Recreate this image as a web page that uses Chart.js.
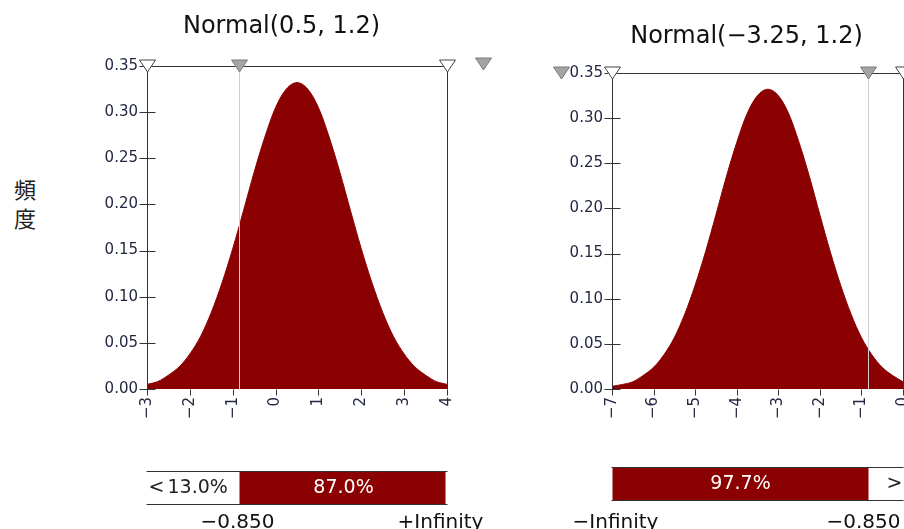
<!DOCTYPE html>
<html>
<head>
<meta charset="utf-8">
<script src="https://cdn.jsdelivr.net/npm/chart.js@4.4.1/dist/chart.umd.min.js"></script>
<style>
  html, body { margin:0; padding:0; background:#fff; width:904px; height:529px; overflow:hidden; position:relative; }
  canvas { position:absolute; top:0; }
  #c1 { left:0; }
  #c2 { left:520px; }
  #ylab { position:absolute; left:12px; top:174px; width:26px; font:22px "Noto Sans CJK JP"; line-height:29px; color:#222; text-align:center; }
</style>
</head>
<body>
<div id="ylab">頻<br>度</div>
<canvas id="c1" width="560" height="529"></canvas>
<canvas id="c2" width="420" height="529"></canvas>
<script>
// density values
const xLeft = [-3, -2.75, -2.5, -2.25, -2, -1.75, -1.5, -1.25, -1, -0.75, -0.5, -0.25, 0, 0.25, 0.5,
  0.75, 1, 1.25, 1.5, 1.75, 2, 2.25, 2.5, 2.75, 3, 3.25, 3.5, 3.75, 4];
const densLeft = [0.005, 0.008, 0.015, 0.024, 0.038, 0.057, 0.083, 0.115, 0.152, 0.193, 0.235, 0.273, 0.305, 0.325, 0.332,
  0.325, 0.305, 0.273, 0.235, 0.193, 0.152, 0.115, 0.083, 0.057, 0.038, 0.024, 0.015, 0.008, 0.005];
const xRight = [-7, -6.75, -6.5, -6.25, -6, -5.75, -5.5, -5.25, -5, -4.75, -4.5, -4.25, -4, -3.75, -3.5, -3.25,
  -3, -2.75, -2.5, -2.25, -2, -1.75, -1.5, -1.25, -1, -0.75, -0.5, -0.25, 0];
const densRight = [0.003, 0.005, 0.008, 0.015, 0.024, 0.038, 0.057, 0.083, 0.115, 0.152, 0.193, 0.235, 0.273, 0.305, 0.325, 0.332,
  0.325, 0.305, 0.273, 0.235, 0.193, 0.152, 0.115, 0.083, 0.057, 0.038, 0.024, 0.015, 0.008];

const titles = ['Normal(0.5, 1.2)', 'Normal(−3.25, 1.2)'];
const cutValue = -0.85;
const pctLeft = ['13.0%', '87.0%'];
const pctRight = ['97.7%', ''];
const endsLeft = ['−0.850', '+Infinity'];
const endsRight = ['−Infinity', '−0.850'];

const RED = '#8b0000';
const TXT = '#232842';

function line(ctx, x1, y1, x2, y2) {
  ctx.beginPath(); ctx.moveTo(x1, y1); ctx.lineTo(x2, y2); ctx.stroke();
}
function tri(ctx, x, y, fill, stroke) {
  ctx.beginPath();
  ctx.moveTo(x - 8, y - 6.5); ctx.lineTo(x + 8, y - 6.5); ctx.lineTo(x, y + 5.5); ctx.closePath();
  ctx.fillStyle = fill; ctx.fill();
  ctx.strokeStyle = stroke; ctx.lineWidth = 1; ctx.stroke();
}

const slider = {
  id: 'slider',
  afterDatasetsDraw(chart, args, o) {
    const { ctx, chartArea: a, scales: { x, y } } = chart;
    const L = Math.round(a.left) + 0.5, R = Math.round(a.right) + 0.5;
    const T = Math.round(a.top) + 0.5, B = Math.round(a.bottom) + 0.5;
    const cx = Math.round(x.getPixelForValue(cutValue)) + 0.5;
    ctx.save();
    ctx.lineWidth = 1;

    ctx.strokeStyle = '#d0d0d0';
    line(ctx, cx, T, cx, B);

    ctx.strokeStyle = '#333';
    line(ctx, L, B, L, T); line(ctx, L, T, R, T); line(ctx, R, T, R, B);
    y.ticks.forEach((t, i) => {
      const py = Math.round(y.getPixelForTick(i)) + 0.5;
      line(ctx, L - 8, py, L + 8, py);
    });
    x.ticks.forEach((t, i) => {
      const px = Math.round(x.getPixelForTick(i)) + 0.5;
      line(ctx, px, B, px, B + 6);
    });

    tri(ctx, L, T, '#fff', '#444');
    tri(ctx, R, T, '#fff', '#444');
    tri(ctx, cx, T, '#a4a4a4', '#7a7a7a');
    tri(ctx, L + o.extraDx, T + o.extraDy, '#a4a4a4', '#7a7a7a');

    ctx.fillStyle = '#111';
    ctx.font = '24px "DejaVu Sans"';
    ctx.textAlign = 'center'; ctx.textBaseline = 'middle';
    ctx.fillText(o.title, L + 134, o.titleY);

    // percentage bar under the plot
    const bt = o.barTop, bh = 33;
    if (o.redRight) {
      ctx.fillStyle = RED; ctx.fillRect(cx, bt, R - 2 - cx, bh);
    } else {
      ctx.fillStyle = RED; ctx.fillRect(L, bt, cx - L, bh);
    }
    ctx.strokeStyle = '#333';
    line(ctx, L - 1, bt + 0.5, R, bt + 0.5);
    line(ctx, L - 1, bt + bh + 0.5, R, bt + bh + 0.5);

    ctx.font = '19px "DejaVu Sans"';
    const my = bt + bh / 2 + 1;
    if (o.redRight) {
      ctx.fillStyle = '#222'; ctx.textAlign = 'left';
      ctx.fillText('<', L + 1, my);
      ctx.fillText(o.pct[0], L + 20, my);
      ctx.fillStyle = '#fff'; ctx.textAlign = 'center';
      ctx.fillText(o.pct[1], (cx + R) / 2, my);
    } else {
      ctx.fillStyle = '#fff'; ctx.textAlign = 'center';
      ctx.fillText(o.pct[0], (L + cx) / 2, my);
      ctx.fillStyle = '#222'; ctx.textAlign = 'right';
      ctx.fillText('>', R - 1, my);
    }

    ctx.fillStyle = '#111';
    ctx.font = '20px "DejaVu Sans"';
    ctx.textAlign = 'center'; ctx.textBaseline = 'alphabetic';
    if (o.redRight) {
      ctx.fillText(o.ends[0], cx - 2, 528);
      ctx.fillText(o.ends[1], R - 7, 528);
    } else {
      ctx.fillText(o.ends[0], L + 3, 528);
      ctx.fillText(o.ends[1], cx - 5, 528);
    }
    ctx.restore();
  }
};

function makeChart(id, xs, ys, xmin, xmax, pad, deco) {
  const font = { family: 'DejaVu Sans', size: 15 };
  return new Chart(document.getElementById(id), {
    type: 'line',
    data: {
      datasets: [{
        data: xs.map((v, i) => ({ x: v, y: ys[i] })),
        fill: 'origin',
        backgroundColor: RED,
        borderColor: RED,
        borderWidth: 1,
        pointRadius: 0,
        cubicInterpolationMode: 'monotone'
      }]
    },
    options: {
      responsive: false,
      animation: false,
      events: [],
      layout: { padding: pad },
      plugins: { legend: { display: false }, tooltip: { enabled: false }, slider: deco },
      scales: {
        x: {
          type: 'linear', min: xmin, max: xmax,
          grid: { display: false, drawTicks: false }, border: { display: false },
          afterFit: s => { s.height = 40; },
          ticks: {
            stepSize: 1, minRotation: 90, maxRotation: 90, autoSkip: false, padding: 8,
            color: TXT, font, callback: v => String(v).replace('-', '−')
          }
        },
        y: {
          min: 0, max: 0.35,
          grid: { display: false, drawTicks: false }, border: { display: false },
          afterFit: s => { s.width = 60; },
          ticks: { stepSize: 0.05, padding: 9, color: TXT, font, callback: v => v.toFixed(2) }
        }
      }
    },
    plugins: [slider]
  });
}

makeChart('c1', xLeft, densLeft, -3, 4,
  { left: 87, right: 113, top: 66, bottom: 100 },
  { title: titles[0], titleY: 27, extraDx: 336, extraDy: -2, redRight: true, barTop: 471, pct: pctLeft, ends: endsLeft });

makeChart('c2', xRight, densRight, -7, 0,
  { left: 32, right: 37, top: 73, bottom: 100 },
  { title: titles[1], titleY: 37, extraDx: -51, extraDy: 0, redRight: false, barTop: 467, pct: pctRight, ends: endsRight });
</script>
</body>
</html>
